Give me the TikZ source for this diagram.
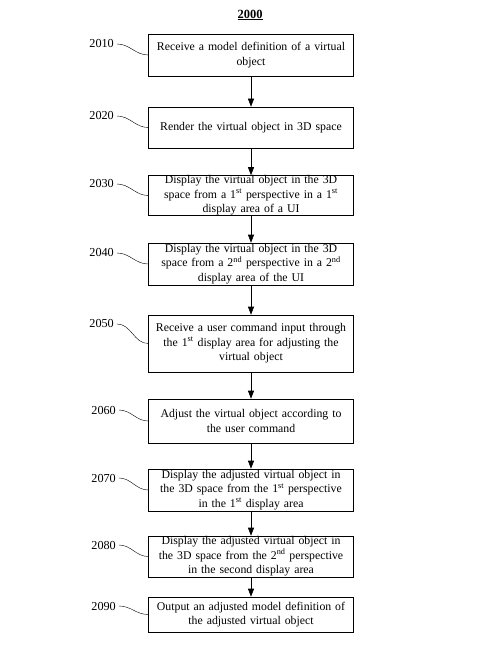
\documentclass[tikz,border=0pt]{standalone}
\usepackage{fontspec}
\setmainfont{Liberation Serif}
\usetikzlibrary{arrows.meta,positioning,calc}

\tikzset{
  stepbox/.style={draw=black, semithick, fill=white, minimum width=205pt, text width=203pt,
    align=center, inner xsep=1pt, inner ysep=0pt, font=\fontsize{11.8}{14.5}\selectfont},
  steplabel/.style={anchor=east, inner sep=1pt, font=\fontsize{12.2}{13}\selectfont},
  flow/.style={-{Triangle[length=8pt,width=6pt]}, semithick},
  hook/.style={thin}
}

\begin{document}
\begin{tikzpicture}[x=1pt,y=-1pt]
    \useasboundingbox (0,0) rectangle (482,660);
    % Title
    \node (title) at (250,15) {\fontsize{12.5}{13}\selectfont\textbf{\underline{2000}}};

    % Step boxes
    \node[stepbox, minimum height=42pt] (s2010) at (251,55) {Receive a model definition of a virtual\\object};
    \node[stepbox, minimum height=41pt] (s2020) at (251,127.5) {Render the virtual object in 3D space};
    \node[stepbox, minimum height=40pt] (s2030) at (251,195.5) {Display the virtual object in the 3D\\space from a 1\textsuperscript{st} perspective in a 1\textsuperscript{st}\\display area of a UI};
    \node[stepbox, minimum height=42pt] (s2040) at (251,264) {Display the virtual object in the 3D\\space from a 2\textsuperscript{nd} perspective in a 2\textsuperscript{nd}\\display area of the UI};
    \node[stepbox, minimum height=57pt] (s2050) at (251,343.5) {Receive a user command input through\\the 1\textsuperscript{st} display area for adjusting the\\virtual object};
    \node[stepbox, minimum height=44pt] (s2060) at (251,421) {Adjust the virtual object according to\\the user command};
    \node[stepbox, minimum height=42pt] (s2070) at (251,490) {Display the adjusted virtual object in\\the 3D space from the 1\textsuperscript{st} perspective\\in the 1\textsuperscript{st} display area};
    \node[stepbox, minimum height=41pt] (s2080) at (251,556.5) {Display the adjusted virtual object in\\the 3D space from the 2\textsuperscript{nd} perspective\\in the second display area};
    \node[stepbox, minimum height=35pt] (s2090) at (251,614.5) {Output an adjusted model definition of\\the adjusted virtual object};

    % Reference numerals
    \node[steplabel] (l2010) at (115,44) {2010};
    \node[steplabel] (l2020) at (115,116) {2020};
    \node[steplabel] (l2030) at (115,184) {2030};
    \node[steplabel] (l2040) at (115,253) {2040};
    \node[steplabel] (l2050) at (115,324) {2050};
    \node[steplabel] (l2060) at (117,410) {2060};
    \node[steplabel] (l2070) at (117,478) {2070};
    \node[steplabel] (l2080) at (117,545) {2080};
    \node[steplabel] (l2090) at (117,606) {2090};

    % Leader curves
    \draw[hook] (l2010.east) ++(2,0) to[out=0,in=180] (s2010.west);
    \draw[hook] (l2020.east) ++(2,0) to[out=0,in=180] (s2020.west);
    \draw[hook] (l2030.east) ++(2,0) to[out=0,in=180] (s2030.west);
    \draw[hook] (l2040.east) ++(2,0) to[out=0,in=180] (s2040.west);
    \draw[hook] (l2050.east) ++(2,0) to[out=0,in=180] (s2050.west);
    \draw[hook] (l2060.east) ++(2,0) to[out=0,in=180] (s2060.west);
    \draw[hook] (l2070.east) ++(2,0) to[out=0,in=180] (s2070.west);
    \draw[hook] (l2080.east) ++(2,0) to[out=0,in=180] (s2080.west);
    \draw[hook] (l2090.east) ++(2,0) to[out=0,in=180] (s2090.west);

    % Flow arrows
    \draw[flow] (s2010) -- (s2020);
    \draw[flow] (s2020) -- (s2030);
    \draw[flow] (s2030) -- (s2040);
    \draw[flow] (s2040) -- (s2050);
    \draw[flow] (s2050) -- (s2060);
    \draw[flow] (s2060) -- (s2070);
    \draw[flow] (s2070) -- (s2080);
    \draw[flow] (s2080) -- (s2090);
\end{tikzpicture}
\end{document}
